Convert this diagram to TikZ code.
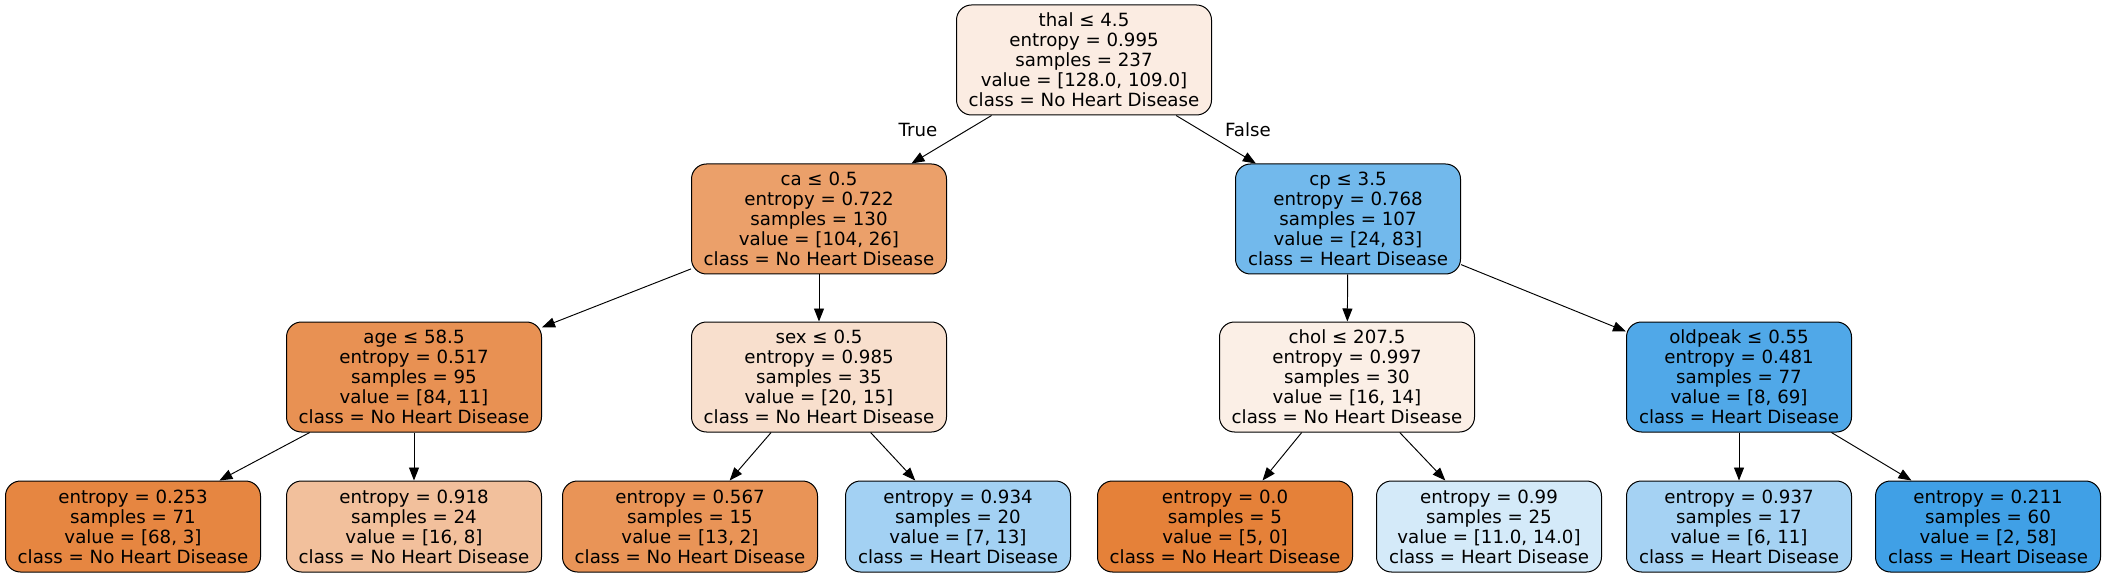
\documentclass[tikz,border=0pt]{standalone}
\usepackage{fontspec}
\setmainfont{DejaVu Sans}
\usetikzlibrary{arrows.meta}
\definecolor{c0}{RGB}{251,236,226}
\definecolor{c1}{RGB}{235,160,106}
\definecolor{c2}{RGB}{114,185,236}
\definecolor{c3}{RGB}{232,145,83}
\definecolor{c4}{RGB}{248,223,205}
\definecolor{c5}{RGB}{251,239,230}
\definecolor{c6}{RGB}{80,168,232}
\definecolor{c7}{RGB}{230,134,65}
\definecolor{c8}{RGB}{242,192,156}
\definecolor{c9}{RGB}{233,148,87}
\definecolor{c10}{RGB}{163,209,243}
\definecolor{c11}{RGB}{229,129,57}
\definecolor{c12}{RGB}{212,234,249}
\definecolor{c13}{RGB}{165,210,243}
\definecolor{c14}{RGB}{64,160,230}
\begin{document}
\begin{tikzpicture}[x=1pt,y=-1pt,
  tnode/.style={draw=black, line width=1pt, rounded corners=15pt, align=center,
    inner sep=0pt, font=\fontsize{18.2}{20}\selectfont, minimum height=110pt},
  leafnode/.style={tnode, minimum height=91pt},
  wide/.style={minimum width=255pt},
  narrow/.style={minimum width=225pt},
  edge/.style={line width=0.95pt, -{Triangle[length=13pt,width=10pt]}},
  elab/.style={font=\fontsize{18.2}{20}\selectfont}]
\useasboundingbox (0,0) rectangle (2106,577);
\node[tnode,wide,fill=c0] (n0) at (1084,60) {thal ≤ 4.5\\entropy = 0.995\\samples = 237\\value = [128.0, 109.0]\\class = No Heart Disease};
\node[tnode,wide,fill=c1] (n1) at (819,219) {ca ≤ 0.5\\entropy = 0.722\\samples = 130\\value = [104, 26]\\class = No Heart Disease};
\node[tnode,narrow,fill=c2] (n8) at (1348,219) {cp ≤ 3.5\\entropy = 0.768\\samples = 107\\value = [24, 83]\\class = Heart Disease};
\node[tnode,wide,fill=c3] (n2) at (414,377) {age ≤ 58.5\\entropy = 0.517\\samples = 95\\value = [84, 11]\\class = No Heart Disease};
\node[tnode,wide,fill=c4] (n5) at (819,377) {sex ≤ 0.5\\entropy = 0.985\\samples = 35\\value = [20, 15]\\class = No Heart Disease};
\node[tnode,wide,fill=c5] (n9) at (1347,377) {chol ≤ 207.5\\entropy = 0.997\\samples = 30\\value = [16, 14]\\class = No Heart Disease};
\node[tnode,narrow,fill=c6] (n12) at (1739,377) {oldpeak ≤ 0.55\\entropy = 0.481\\samples = 77\\value = [8, 69]\\class = Heart Disease};
\node[leafnode,wide,fill=c7] (n3) at (133,526.5) {entropy = 0.253\\samples = 71\\value = [68, 3]\\class = No Heart Disease};
\node[leafnode,wide,fill=c8] (n4) at (414,526.5) {entropy = 0.918\\samples = 24\\value = [16, 8]\\class = No Heart Disease};
\node[leafnode,wide,fill=c9] (n6) at (690,526.5) {entropy = 0.567\\samples = 15\\value = [13, 2]\\class = No Heart Disease};
\node[leafnode,narrow,fill=c10] (n7) at (958,526.5) {entropy = 0.934\\samples = 20\\value = [7, 13]\\class = Heart Disease};
\node[leafnode,wide,fill=c11] (n10) at (1225,526.5) {entropy = 0.0\\samples = 5\\value = [5, 0]\\class = No Heart Disease};
\node[leafnode,narrow,fill=c12] (n11) at (1489,526.5) {entropy = 0.99\\samples = 25\\value = [11.0, 14.0]\\class = Heart Disease};
\node[leafnode,narrow,fill=c13] (n13) at (1739,526.5) {entropy = 0.937\\samples = 17\\value = [6, 11]\\class = Heart Disease};
\node[leafnode,narrow,fill=c14] (n14) at (1988,526.5) {entropy = 0.211\\samples = 60\\value = [2, 58]\\class = Heart Disease};
\draw[edge] (n0) -- (n1);
\draw[edge] (n0) -- (n8);
\draw[edge] (n1) -- (n2);
\draw[edge] (n1) -- (n5);
\draw[edge] (n2) -- (n3);
\draw[edge] (n2) -- (n4);
\draw[edge] (n5) -- (n6);
\draw[edge] (n5) -- (n7);
\draw[edge] (n8) -- (n9);
\draw[edge] (n8) -- (n12);
\draw[edge] (n9) -- (n10);
\draw[edge] (n9) -- (n11);
\draw[edge] (n12) -- (n13);
\draw[edge] (n12) -- (n14);
\node[elab] (ltrue) at (918,130) {True};
\node[elab] (lfalse) at (1248,130) {False};
\end{tikzpicture}
\end{document}
